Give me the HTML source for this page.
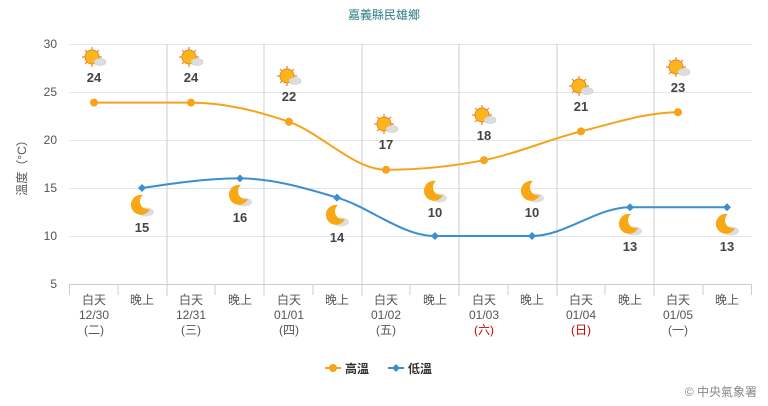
<!DOCTYPE html><html><head><meta charset="utf-8"><style>body{margin:0;background:#fff}svg{display:block;font-family:"Liberation Sans","Noto Sans CJK TC",sans-serif}</style></head><body>
<svg width="768" height="406" viewBox="0 0 768 406">
<defs>
<g id="sun"><g stroke="#e8862a" stroke-width="1.2"><line x1="0" y1="-10" x2="0" y2="10"/><line x1="-10" y1="0" x2="10" y2="0"/><line x1="-7" y1="-7" x2="7" y2="7"/><line x1="-7" y1="7" x2="7" y2="-7"/></g><circle r="7" fill="#fdb61a" stroke="#e8862a"/><ellipse cx="8" cy="5" rx="6" ry="3.5" fill="#ddd" stroke="#c8c8c8" stroke-width=".6"/></g>
<g id="moon"><ellipse cx="6" cy="7" rx="8" ry="4.5" fill="#ddd"/><path d="M3,-10 A10,10 0 1 0 10,4 A8,8 0 0 1 3,-10Z" fill="#f7a814"/></g>
</defs>
<text x="384" y="19" text-anchor="middle" font-size="12" fill="#2f7c8a">嘉義縣民雄鄉</text>
<g stroke="#e6e6e6"><line x1="69" y1="44.5" x2="752" y2="44.5"/><line x1="69" y1="92.5" x2="752" y2="92.5"/><line x1="69" y1="140.5" x2="752" y2="140.5"/><line x1="69" y1="188.5" x2="752" y2="188.5"/><line x1="69" y1="236.5" x2="752" y2="236.5"/></g>
<g stroke="#ccc"><line x1="167" y1="44" x2="167" y2="296"/><line x1="264" y1="44" x2="264" y2="296"/><line x1="362" y1="44" x2="362" y2="296"/><line x1="459" y1="44" x2="459" y2="296"/><line x1="557" y1="44" x2="557" y2="296"/><line x1="654" y1="44" x2="654" y2="296"/><line x1="69" y1="284.5" x2="752" y2="284.5"/>
<line x1="69.5" y1="284" x2="69.5" y2="295"/><line x1="118" y1="284" x2="118" y2="295"/><line x1="215" y1="284" x2="215" y2="295"/><line x1="313" y1="284" x2="313" y2="295"/><line x1="410" y1="284" x2="410" y2="295"/><line x1="508" y1="284" x2="508" y2="295"/><line x1="605" y1="284" x2="605" y2="295"/><line x1="703" y1="284" x2="703" y2="295"/><line x1="751.5" y1="284" x2="751.5" y2="295"/></g>
<g font-size="12" fill="#555" text-anchor="end"><text x="57" y="48">30</text><text x="57" y="96">25</text><text x="57" y="144">20</text><text x="57" y="192">15</text><text x="57" y="240">10</text><text x="57" y="288">5</text></g>
<text transform="translate(26,165) rotate(-90)" text-anchor="middle" font-size="12" fill="#555">溫度（°C）</text>
<g font-size="12" fill="#555" text-anchor="middle">
<text x="94" y="304">白天</text><text x="94" y="319">12/30</text><text x="94" y="334">(二)</text>
<text x="142" y="304">晚上</text>
<text x="191" y="304">白天</text><text x="191" y="319">12/31</text><text x="191" y="334">(三)</text>
<text x="240" y="304">晚上</text>
<text x="289" y="304">白天</text><text x="289" y="319">01/01</text><text x="289" y="334">(四)</text>
<text x="337" y="304">晚上</text>
<text x="386" y="304">白天</text><text x="386" y="319">01/02</text><text x="386" y="334">(五)</text>
<text x="435" y="304">晚上</text>
<text x="484" y="304">白天</text><text x="484" y="319">01/03</text><text x="484" y="334" fill="#c00">(六)</text>
<text x="532" y="304">晚上</text>
<text x="581" y="304">白天</text><text x="581" y="319">01/04</text><text x="581" y="334" fill="#c00">(日)</text>
<text x="630" y="304">晚上</text>
<text x="678" y="304">白天</text><text x="678" y="319">01/05</text><text x="678" y="334">(一)</text>
<text x="727" y="304">晚上</text></g>
<path d="M94,102.6 C126,102.6 159,102.6 191,102.6 C224,102.6 256,110.6 289,121.8 C321,133 354,169.8 386,169.8 C419,169.8 451,166.6 484,160.2 C516,153.8 549,139.4 581,131.4 C613,123.4 646,112.2 678,112.2" fill="none" stroke="#f5a31a" stroke-width="2"/>
<path d="M142,188 C175,183 207,178.4 240,178.4 C272,178.4 305,187.9 337,197.6 C370,207.3 402,236 435,236 L532,236 C565,236 597,207.2 630,207.2 L727,207.2" fill="none" stroke="#3b8fcf" stroke-width="2"/>
<g fill="#f5a31a"><circle cx="94" cy="102.6" r="4"/><circle cx="191" cy="102.6" r="4"/><circle cx="289" cy="121.8" r="4"/><circle cx="386" cy="169.8" r="4"/><circle cx="484" cy="160.2" r="4"/><circle cx="581" cy="131.4" r="4"/><circle cx="678" cy="112.2" r="4"/></g>
<g fill="#3b8fcf"><path d="M142,184l4,4l-4,4l-4,-4z"/><path d="M240,174.4l4,4l-4,4l-4,-4z"/><path d="M337,193.6l4,4l-4,4l-4,-4z"/><path d="M435,232l4,4l-4,4l-4,-4z"/><path d="M532,232l4,4l-4,4l-4,-4z"/><path d="M630,203.2l4,4l-4,4l-4,-4z"/><path d="M727,203.2l4,4l-4,4l-4,-4z"/></g>
<use href="#sun" x="92" y="57"/><use href="#sun" x="189" y="57"/><use href="#sun" x="287" y="76"/><use href="#sun" x="384" y="124"/><use href="#sun" x="482" y="115"/><use href="#sun" x="579" y="86"/><use href="#sun" x="676" y="67"/>
<use href="#moon" x="140" y="205"/><use href="#moon" x="238" y="195"/><use href="#moon" x="335" y="215"/><use href="#moon" x="433" y="191"/><use href="#moon" x="530" y="191"/><use href="#moon" x="628" y="224"/><use href="#moon" x="725" y="224"/>
<g font-size="13" font-weight="bold" fill="#444" text-anchor="middle">
<text x="94" y="82">24</text><text x="191" y="82">24</text><text x="289" y="101">22</text><text x="386" y="149">17</text><text x="484" y="140">18</text><text x="581" y="111">21</text><text x="678" y="92">23</text>
<text x="142" y="232">15</text><text x="240" y="222">16</text><text x="337" y="242">14</text><text x="435" y="217">10</text><text x="532" y="217">10</text><text x="630" y="251">13</text><text x="727" y="251">13</text></g>
<line x1="325" y1="368" x2="341" y2="368" stroke="#f5a31a" stroke-width="2"/><circle cx="333" cy="368" r="4" fill="#f5a31a"/>
<text x="345" y="373" font-size="12" font-weight="bold" fill="#333">高溫</text>
<line x1="388" y1="368" x2="404" y2="368" stroke="#3b8fcf" stroke-width="2"/><path d="M396,364l4,4l-4,4l-4,-4z" fill="#3b8fcf"/>
<text x="408" y="373" font-size="12" font-weight="bold" fill="#333">低溫</text>
<text x="757" y="396" text-anchor="end" font-size="12" fill="#888">© 中央氣象署</text>
</svg></body></html>
